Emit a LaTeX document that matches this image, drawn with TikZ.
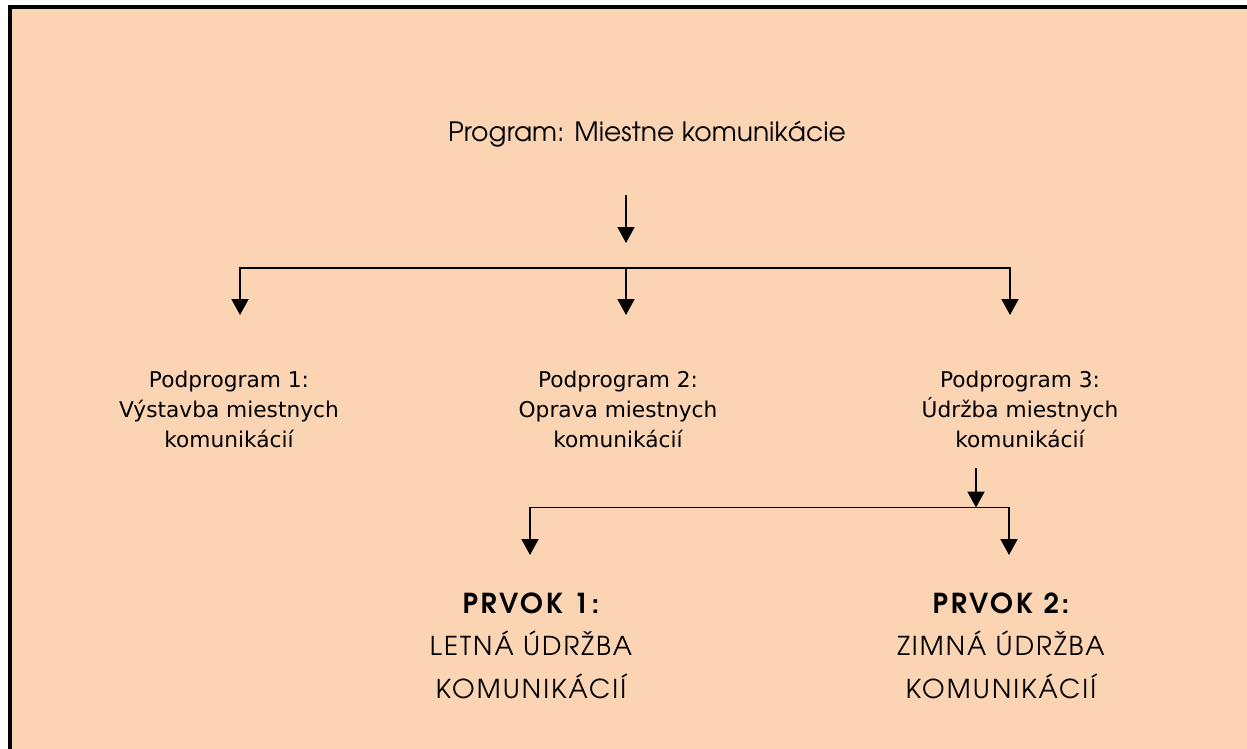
\documentclass[tikz,border=0pt]{standalone}
\usepackage{fontspec}
\setmainfont{DejaVu Sans}
\newfontfamily\futfont{TeX Gyre Adventor}
\newfontfamily\futcaps[LetterSpace=8]{TeX Gyre Adventor}
\newfontfamily\futbold[LetterSpace=10]{TeX Gyre Adventor}
\usetikzlibrary{arrows.meta}
\definecolor{peach}{HTML}{FBD4B4}
\tikzset{
  conn/.style={line width=1.9pt, line join=miter, -{Triangle[width=17pt,length=16pt]}},
  subtext/.style={font=\fontsize{21.7}{30}\selectfont, align=center, anchor=base, inner sep=0pt},
  toptext/.style={font=\futfont\fontsize{26.6}{30}\selectfont, anchor=base, inner sep=0pt},
  prvtext/.style={font=\futcaps\fontsize{26}{42.5}\selectfont, align=center, anchor=base, inner sep=0pt}
}
\begin{document}
\begin{tikzpicture}[x=1pt,y=-1pt]
\useasboundingbox (0,0) rectangle (1247,749);
\fill[white] (0,0) rectangle (1247,749);
\fill[peach] (12,9) rectangle (1247,749);
\fill[black] (8,5) rectangle (1247,9);
\fill[black] (8,5) rectangle (12,749);

\node[toptext] (prog) at (647,142) {Program: Miestne komunikácie};
\node[subtext] (p1) at (229,447) {Podprogram 1:\\Výstavba miestnych\\komunikácií};
\node[subtext] (p2) at (618,447) {Podprogram 2:\\Oprava miestnych\\komunikácií};
\node[subtext] (p3) at (1020,447) {Podprogram 3:\\Údržba miestnych\\komunikácií};
\node[prvtext] (e1) at (531,698) {{\futbold\bfseries\fontsize{27.5}{42.5}\selectfont PRVOK 1:}\\LETNÁ ÚDRŽBA\\KOMUNIKÁCIÍ};
\node[prvtext] (e2) at (1001,698) {{\futbold\bfseries\fontsize{27.5}{42.5}\selectfont PRVOK 2:}\\ZIMNÁ ÚDRŽBA\\KOMUNIKÁCIÍ};

\coordinate (a0) at (626,195);
\coordinate (j0) at (626,243);
\coordinate (bM) at (626,268);
\coordinate (tL) at (240,315);
\coordinate (tM) at (626,315);
\coordinate (tR) at (1010,315);
\coordinate (a1) at (976,468);
\coordinate (j1) at (976,507.5);
\coordinate (uL) at (530,555);
\coordinate (uR) at (1009,555);

\draw[conn] (a0) -- (j0);
\draw[conn] (bM) -| (tL);
\draw[conn] (bM) -| (tR);
\draw[conn] (bM) -- (tM);
\draw[conn] (a1) -- (j1);
\draw[conn] (j1) -| (uL);
\draw[conn] (j1) -| (uR);
\end{tikzpicture}
\end{document}
